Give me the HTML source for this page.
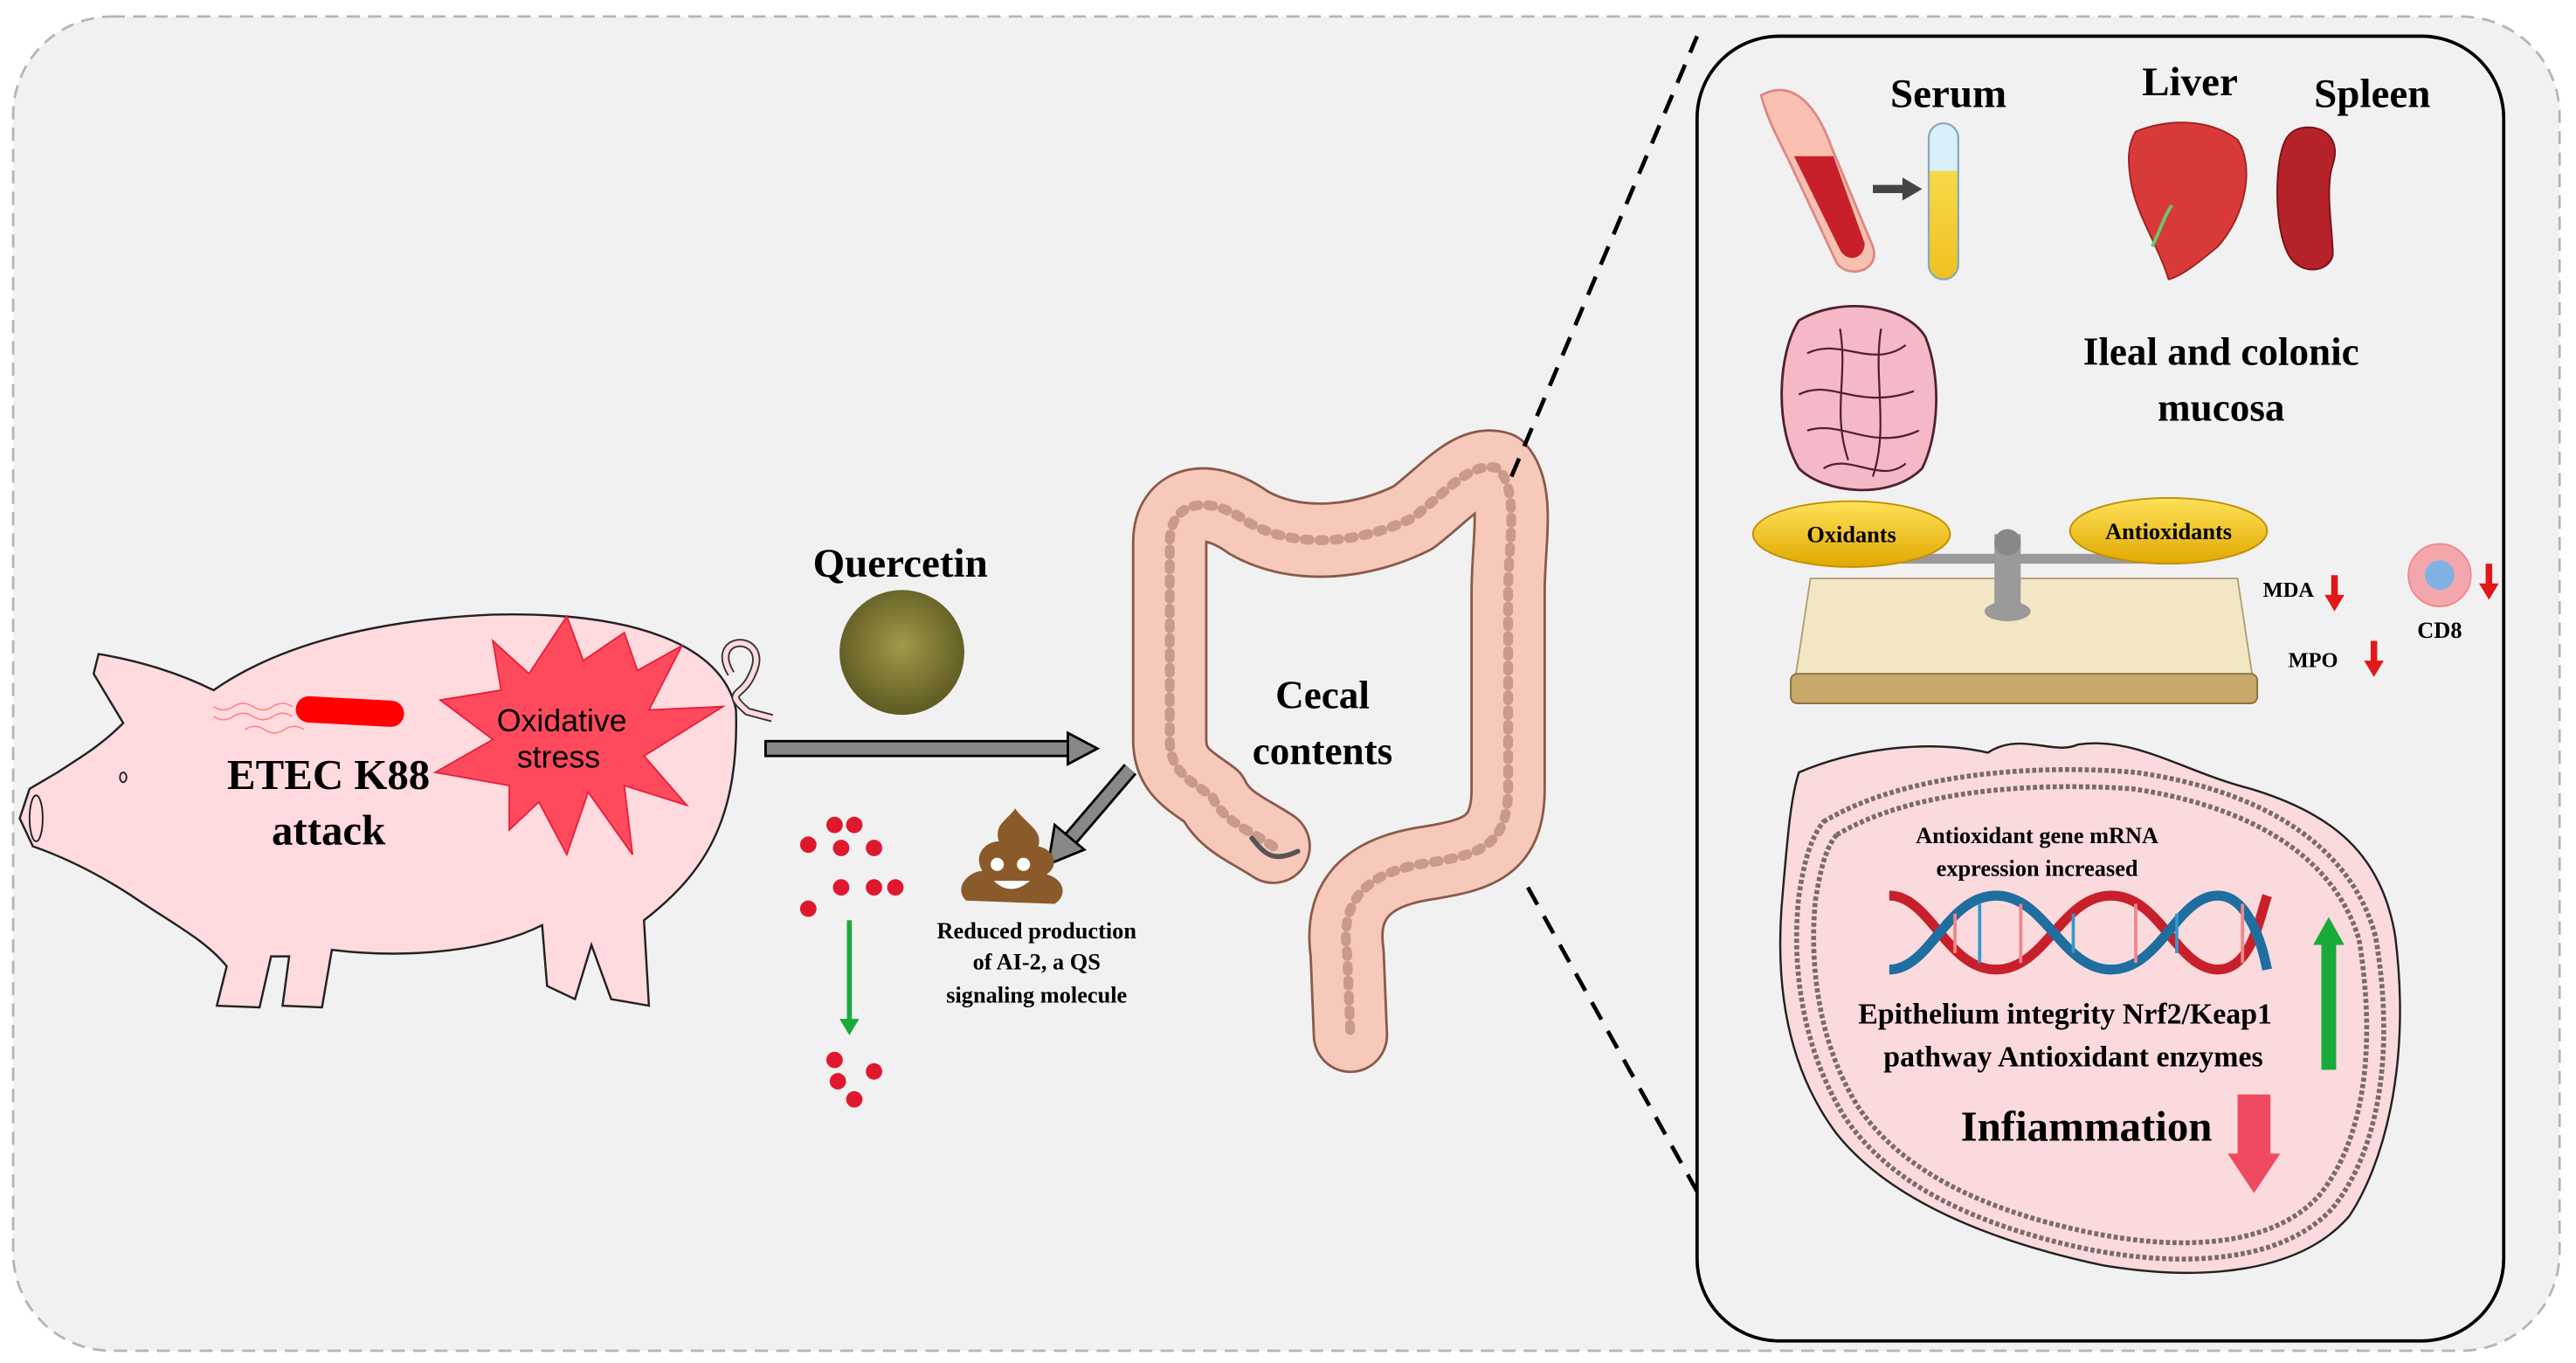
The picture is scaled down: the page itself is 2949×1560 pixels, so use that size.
<!DOCTYPE html>
<html><head><meta charset="utf-8"><style>
html,body{margin:0;padding:0;background:#fff;}
svg{display:block;}
text{font-family:"Liberation Serif",serif;font-weight:bold;fill:#000;}
</style></head><body>
<svg width="2949" height="1560" viewBox="0 0 1568 829.4" xmlns="http://www.w3.org/2000/svg">
<defs>
<radialGradient id="q" cx="50%" cy="45%" r="55%"><stop offset="0" stop-color="#a09a48"/><stop offset="1" stop-color="#5e5a22"/></radialGradient>
<linearGradient id="plate" x1="0" y1="0" x2="0" y2="1"><stop offset="0" stop-color="#ffe25a"/><stop offset="1" stop-color="#e0a800"/></linearGradient>
<linearGradient id="tube" x1="0" y1="0" x2="0" y2="1"><stop offset="0" stop-color="#d8f0fa"/><stop offset="0.3" stop-color="#d8f0fa"/><stop offset="0.31" stop-color="#f6da4a"/><stop offset="1" stop-color="#f0c020"/></linearGradient>
</defs>
<rect x="0" y="0" width="1568" height="829.4" fill="#fff"/>
<rect x="8" y="10" width="1550" height="812" rx="60" fill="#f1f1f1" stroke="#b5b5b5" stroke-width="1.5" stroke-dasharray="8 5"/>

<!-- pig -->
<path d="M35,470 L18,480 L12,498 L20,515 C40,522 60,532 80,545 C105,562 125,572 138,588 L132,612 L158,613 L165,582 L176,582 L172,612 L196,613 L202,578 C250,584 300,578 330,563 L333,600 L350,608 L360,575 L372,608 L395,612 L392,560 C428,532 450,500 448,432 C440,392 385,372 300,374 C230,377 170,392 130,420 C110,410 85,402 60,398 L57,410 L75,440 C60,455 47,462 35,470 Z" fill="#ffdadf" stroke="#222" stroke-width="1.3"/>
<path d="M445,410 C430,385 470,385 458,410 C452,425 440,420 455,433 L470,437" fill="none" stroke="#333" stroke-width="5"/>
<path d="M445,410 C430,385 470,385 458,410 C452,425 440,420 455,433 L470,437" fill="none" stroke="#ffdadf" stroke-width="3"/>
<ellipse cx="22" cy="498" rx="4" ry="14" fill="none" stroke="#222" stroke-width="1"/>
<ellipse cx="75" cy="473" rx="2" ry="3" fill="none" stroke="#222"/>
<polygon points="415,393 395,432 440,430 392,460 418,490 380,478 385,520 358,482 345,520 328,488 310,505 310,478 265,470 300,450 268,426 305,420 300,390 322,410 345,375 355,402 380,385 388,408" fill="#ff4a5e" stroke="#e8203a" stroke-width="1"/>
<text x="342" y="445" font-size="19" text-anchor="middle" style="font-family:'Liberation Sans',sans-serif;font-weight:normal">Oxidative</text>
<text x="340" y="467" font-size="19" text-anchor="middle" style="font-family:'Liberation Sans',sans-serif;font-weight:normal">stress</text>
<rect x="180" y="425" width="66" height="16" rx="8" fill="#f00" transform="rotate(3 213 433)"/>
<path d="M178,430 q-6,-4 -12,0 t-12,0 t-12,0 t-12,0 M178,436 q-6,-4 -12,0 t-12,0 t-12,0 t-12,0 M185,444 q-6,-4 -12,0 t-12,0 t-12,0" fill="none" stroke="#ff8080" stroke-width="0.8"/>
<text x="200" y="480" font-size="26" text-anchor="middle">ETEC K88</text>
<text x="200" y="514" font-size="26" text-anchor="middle">attack</text>

<!-- quercetin -->
<text x="548" y="351" font-size="25" text-anchor="middle">Quercetin</text>
<circle cx="549" cy="397" r="38" fill="url(#q)"/>
<rect x="466" y="451" width="186" height="9" fill="#888" stroke="#000" stroke-width="1.5"/>
<polygon points="650,446 668,455.5 650,465" fill="#888" stroke="#000" stroke-width="1.5"/>

<!-- colon -->
<g fill="none" stroke-linecap="round" stroke-linejoin="round">
<path id="col" d="M775,515 C760,505 745,500 738,485 C725,475 712,470 712,450 L712,330 C712,305 735,300 760,318 C790,335 830,330 860,315 C880,300 895,280 912,285 C925,300 918,330 918,360 L918,480 C918,515 900,520 870,525 C835,530 815,545 820,580 L822,630" stroke="#8a5a4a" stroke-width="46"/>
<path d="M775,515 C760,505 745,500 738,485 C725,475 712,470 712,450 L712,330 C712,305 735,300 760,318 C790,335 830,330 860,315 C880,300 895,280 912,285 C925,300 918,330 918,360 L918,480 C918,515 900,520 870,525 C835,530 815,545 820,580 L822,630" stroke="#f7c9bb" stroke-width="43"/>
<path d="M775,515 C760,505 745,500 738,485 C725,475 712,470 712,450 L712,330 C712,305 735,300 760,318 C790,335 830,330 860,315 C880,300 895,280 912,285 C925,300 918,330 918,360 L918,480 C918,515 900,520 870,525 C835,530 815,545 820,580 L822,630" stroke="#c99a8a" stroke-width="6" stroke-dasharray="3 6"/>
<path d="M762,510 C770,520 775,525 790,518" stroke="#555" stroke-width="3"/>
</g>
<text x="805" y="431" font-size="24" text-anchor="middle">Cecal</text>
<text x="805" y="465" font-size="24" text-anchor="middle">contents</text>
<line x1="688" y1="468" x2="652" y2="510" stroke="#000" stroke-width="10"/>
<line x1="688" y1="468" x2="652" y2="510" stroke="#888" stroke-width="7"/>
<polygon points="638,526 642,502 660,517" fill="#888" stroke="#000" stroke-width="1.5"/>
<!-- poop -->
<path d="M588,548 C580,540 590,530 598,530 C592,520 600,512 608,512 C605,502 612,500 618,492 C625,502 635,505 632,515 C642,517 645,527 637,532 C648,535 650,545 642,550 Z" fill="#8b5a2b"/>
<circle cx="607" cy="526" r="4" fill="#fff"/><circle cx="623" cy="526" r="4" fill="#fff"/>
<path d="M605,536 Q615,546 627,536 Z" fill="#fff"/>
<text x="631" y="571" font-size="14" text-anchor="middle">Reduced production</text>
<text x="631" y="590" font-size="14" text-anchor="middle">of AI-2, a QS</text>
<text x="631" y="610" font-size="14" text-anchor="middle">signaling molecule</text>
<g fill="#e0182e">
<circle cx="508" cy="502" r="5"/><circle cx="520" cy="502" r="5"/><circle cx="492" cy="514" r="5"/><circle cx="512" cy="516" r="5"/><circle cx="532" cy="516" r="5"/>
<circle cx="512" cy="540" r="5"/><circle cx="532" cy="540" r="5"/><circle cx="545" cy="540" r="5"/><circle cx="492" cy="553" r="5"/>
<circle cx="508" cy="645" r="5"/><circle cx="532" cy="652" r="5"/><circle cx="510" cy="658" r="5"/><circle cx="520" cy="669" r="5"/>
</g>
<line x1="517" y1="560" x2="517" y2="622" stroke="#1aaa3a" stroke-width="3"/>
<polygon points="511,620 523,620 517,630" fill="#1aaa3a"/>

<!-- dashed connectors -->
<line x1="920" y1="290" x2="1033" y2="22" stroke="#000" stroke-width="2.5" stroke-dasharray="12 8"/>
<line x1="930" y1="540" x2="1033" y2="725" stroke="#000" stroke-width="2.5" stroke-dasharray="12 8"/>

<!-- right panel -->
<rect x="1033" y="22" width="491" height="794" rx="50" fill="#f1f1f1" stroke="#000" stroke-width="2"/>
<text x="1186" y="65" font-size="25" text-anchor="middle">Serum</text>
<text x="1333" y="58" font-size="25" text-anchor="middle">Liver</text>
<text x="1444" y="65" font-size="25" text-anchor="middle">Spleen</text>
<path d="M1072,58 C1090,48 1105,62 1115,90 L1140,150 C1145,165 1125,170 1118,160 L1090,100 C1080,80 1075,70 1072,58 Z" fill="#f7c0b0" stroke="#d88" stroke-width="1.5"/>
<path d="M1092,95 L1116,95 L1135,148 C1135,158 1124,160 1120,152 Z" fill="#c8202a"/>
<line x1="1140" y1="115" x2="1160" y2="115" stroke="#444" stroke-width="5"/>
<polygon points="1158,108 1170,115 1158,122" fill="#444"/>
<rect x="1174" y="75" width="18" height="95" rx="9" fill="url(#tube)" stroke="#8ab" stroke-width="1.2"/>
<path d="M1300,80 C1320,72 1345,72 1362,85 C1372,100 1368,130 1350,150 C1338,160 1328,168 1320,170 C1314,150 1300,130 1297,110 C1295,98 1295,88 1300,80 Z" fill="#d83a3a" stroke="#a02020" stroke-width="1"/>
<path d="M1310,150 C1315,140 1318,130 1322,125" stroke="#6c6" stroke-width="2" fill="none"/>
<path d="M1400,78 C1415,75 1425,85 1420,100 C1415,115 1420,140 1420,155 C1418,166 1400,168 1393,155 C1385,140 1385,110 1388,95 C1390,85 1393,80 1400,78 Z" fill="#b5222a" stroke="#7a1016" stroke-width="1"/>
<!-- intestine -->
<path d="M1095,195 C1120,180 1160,185 1172,205 C1182,230 1180,265 1170,285 C1150,305 1110,300 1095,285 C1080,260 1082,215 1095,195 Z" fill="#f4b8c6" stroke="#502030" stroke-width="1.5"/>
<path d="M1100,215 C1120,205 1140,225 1160,210 M1095,240 C1115,230 1130,250 1165,238 M1100,262 C1120,255 1140,275 1168,262 M1110,285 C1125,275 1145,295 1160,282 M1120,200 C1125,230 1115,250 1125,280 M1145,200 C1140,230 1150,260 1140,290" fill="none" stroke="#502030" stroke-width="1.2"/>
<text x="1352" y="222" font-size="24" text-anchor="middle">Ileal and colonic</text>
<text x="1352" y="256" font-size="24" text-anchor="middle">mucosa</text>
<!-- scale -->
<polygon points="1102,352 1362,352 1372,418 1092,418" fill="#f2e6c4" stroke="#b0a070" stroke-width="1"/>
<rect x="1090" y="410" width="284" height="18" rx="4" fill="#c8a868" stroke="#8a7040"/>
<line x1="1125" y1="340" x2="1320" y2="340" stroke="#999" stroke-width="6"/>
<rect x="1214" y="325" width="16" height="45" fill="#9a9a9a"/>
<circle cx="1222" cy="330" r="8" fill="#888"/>
<ellipse cx="1222" cy="372" rx="14" ry="6" fill="#999"/>
<ellipse cx="1127" cy="325" rx="60" ry="20" fill="url(#plate)" stroke="#c09000"/>
<ellipse cx="1320" cy="323" rx="60" ry="20" fill="url(#plate)" stroke="#c09000"/>
<text x="1127" y="330" font-size="14" text-anchor="middle">Oxidants</text>
<text x="1320" y="328" font-size="14" text-anchor="middle">Antioxidants</text>
<text x="1393" y="363" font-size="13" text-anchor="middle">MDA</text>
<text x="1408" y="406" font-size="13" text-anchor="middle">MPO</text>
<text x="1485" y="388" font-size="14" text-anchor="middle">CD8</text>
<circle cx="1485" cy="350" r="19" fill="#f3a7ad" stroke="#e88"/>
<circle cx="1485" cy="350" r="9" fill="#7fb2e0"/>
<g fill="#e01818">
<rect x="1419" y="350" width="4" height="14"/><polygon points="1415,362 1427,362 1421,372"/>
<rect x="1443" y="390" width="4" height="14"/><polygon points="1439,402 1451,402 1445,412"/>
<rect x="1513" y="343" width="4" height="14"/><polygon points="1509,355 1521,355 1515,365"/>
</g>
<!-- cell blob -->
<path d="M1095,470 C1130,455 1175,450 1210,458 C1230,445 1250,460 1265,453 C1300,448 1330,470 1370,480 C1420,495 1450,520 1458,570 C1468,650 1450,710 1430,740 C1400,775 1340,780 1280,770 C1210,755 1150,730 1118,690 C1088,650 1080,600 1085,545 C1088,510 1090,485 1095,470 Z" fill="#fadadd" stroke="#222" stroke-width="1.3"/>
<path d="M1110,500 C1160,470 1240,465 1300,470 C1370,480 1430,510 1446,570 C1458,640 1448,700 1420,735 C1390,768 1330,772 1270,760 C1200,745 1150,720 1123,680 C1098,640 1090,590 1095,545 C1098,525 1102,510 1110,500 Z" fill="none" stroke="#7a6a6a" stroke-width="3" stroke-dasharray="2.5 1.5"/>
<path d="M1118,508 C1165,480 1240,476 1298,480 C1365,490 1420,518 1436,572 C1447,640 1438,695 1412,727 C1385,758 1330,762 1272,750 C1205,736 1158,712 1132,675 C1108,638 1101,590 1105,548 C1108,530 1111,516 1118,508 Z" fill="none" stroke="#7a6a6a" stroke-width="3" stroke-dasharray="2.5 1.5"/>
<text x="1240" y="513" font-size="14" text-anchor="middle">Antioxidant gene mRNA</text>
<text x="1240" y="533" font-size="14" text-anchor="middle">expression increased</text>
<!-- DNA -->
<g fill="none" stroke-width="6">
<path d="M1150,545 C1175,545 1185,590 1215,590 C1245,590 1255,545 1285,545 C1315,545 1325,590 1350,590 C1370,590 1375,560 1380,545" stroke="#c8202a"/>
<path d="M1150,590 C1175,590 1185,545 1215,545 C1245,545 1255,590 1285,590 C1315,590 1325,545 1350,545 C1370,545 1378,580 1380,590" stroke="#1e6ea0"/>
</g>
<g stroke-width="2"><line x1="1190" y1="556" x2="1190" y2="580" stroke="#e88"/><line x1="1205" y1="550" x2="1205" y2="586" stroke="#39c"/><line x1="1230" y1="550" x2="1230" y2="586" stroke="#e88"/><line x1="1262" y1="556" x2="1262" y2="580" stroke="#39c"/><line x1="1300" y1="550" x2="1300" y2="586" stroke="#e88"/><line x1="1325" y1="556" x2="1325" y2="580" stroke="#39c"/><line x1="1365" y1="550" x2="1365" y2="586" stroke="#e88"/></g>
<text x="1257" y="623" font-size="18" text-anchor="middle">Epithelium integrity  Nrf2/Keap1</text>
<text x="1262" y="649" font-size="18" text-anchor="middle">pathway Antioxidant enzymes</text>
<rect x="1413" y="572" width="9" height="79" fill="#1aaa3a"/>
<polygon points="1408,575 1427,575 1417.5,558" fill="#1aaa3a"/>
<text x="1270" y="694" font-size="26" text-anchor="middle">Infiammation</text>
<rect x="1362" y="666" width="20" height="38" fill="#f04a60"/>
<polygon points="1356,702 1388,702 1372,726" fill="#f04a60"/>
</svg>
</body></html>
